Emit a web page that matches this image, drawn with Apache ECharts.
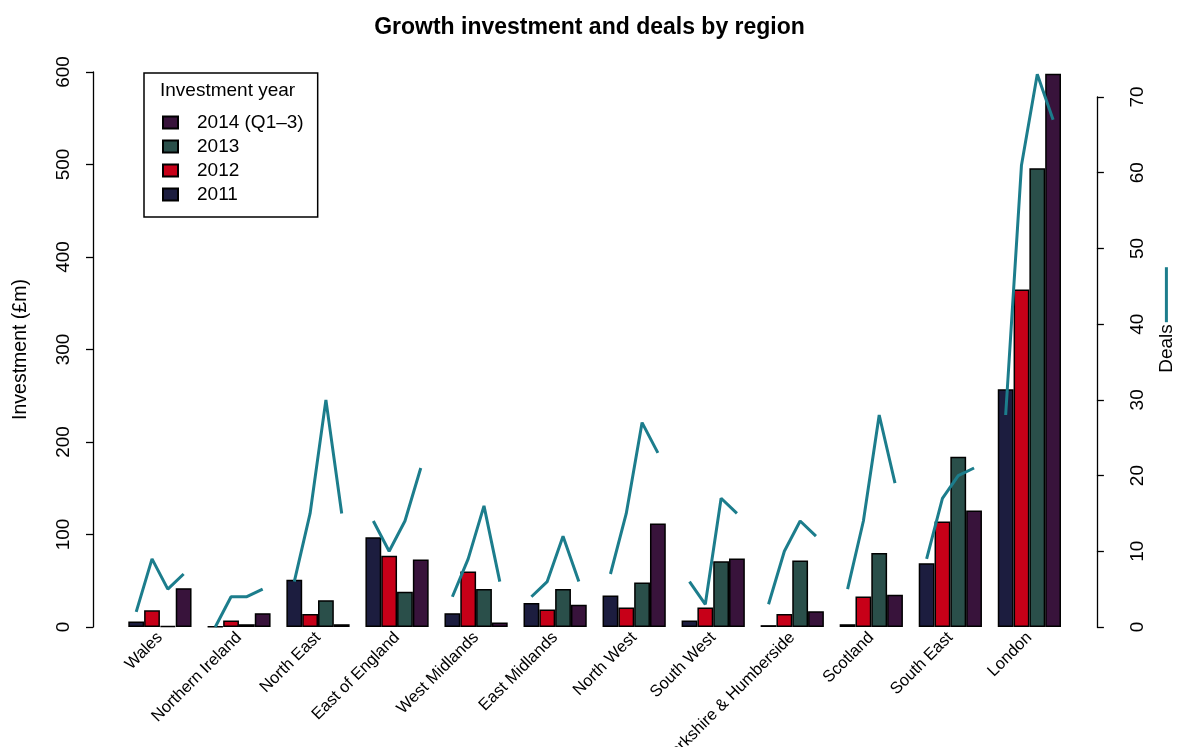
<!DOCTYPE html>
<html>
<head>
<meta charset="utf-8">
<script src="https://cdn.jsdelivr.net/npm/echarts@6/dist/echarts.min.js"></script>
<style>
html,body{margin:0;padding:0;background:#fff;}
#c{width:1179px;height:747px;}
</style>
</head>
<body>
<div id="c"></div>
<script>
const regions = ['Wales','Northern Ireland','North East','East of England','West Midlands','East Midlands','North West','South West','Yorkshire & Humberside','Scotland','South East','London'];
const years = ['2011','2012','2013','2014 (Q1–3)'];
const inv2011 = [6, 0.5, 51, 97, 15, 26, 34, 7, 2, 3, 69, 257];
const inv2012 = [18, 7, 14, 77, 60, 19, 21, 21, 14, 33, 114, 365];
const inv2013 = [1, 3, 29, 38, 41, 41, 48, 71, 72, 80, 184, 496];
const inv2014 = [42, 15, 3, 73, 5, 24, 112, 74, 17, 35, 126, 598];
// deals per region, years 2011..2014
const deals2011 = [2, 0, 6, 14, 4, 4, 7, 6, 3, 5, 9, 28];
const deals2012 = [9, 4, 15, 10, 9, 6, 15, 3, 10, 14, 17, 61];
const deals2013 = [5, 4, 30, 14, 16, 12, 27, 17, 14, 28, 20, 73];
const deals2014 = [7, 5, 15, 21, 6, 6, 23, 15, 12, 19, 21, 67];
const invTicks = [0, 100, 200, 300, 400, 500, 600];
const dealTicks = [0, 10, 20, 30, 40, 50, 60, 70];

const colors = ['#1c1d3f', '#c70018', '#2a4f4a', '#38133b'];
const lineColor = '#1c7d8c';
const FONT = 'Liberation Sans, Arial, Helvetica, sans-serif';

// slot axis: 5 slots per region, bars centred at slots 1..4 of each group
const slots = [];
for (let i = 0; i <= regions.length * 5; i++) slots.push(String(i));
const dealSets = [deals2011, deals2012, deals2013, deals2014];
const dealLine = slots.map(() => null);
regions.forEach((r, g) => {
  dealSets.forEach((arr, k) => { dealLine[g * 5 + k + 1] = arr[g]; });
});

const invSets = [inv2011, inv2012, inv2013, inv2014];
const gridL = 120.4, gridR = 110.1;

const chart = echarts.init(document.getElementById('c'), null, {renderer: 'canvas'});
chart.setOption({
  animation: false,
  backgroundColor: '#fff',
  textStyle: {fontFamily: FONT},
  title: {
    text: 'Growth investment and deals by region',
    left: 'center', top: 11,
    textStyle: {fontFamily: FONT, fontSize: 23, fontWeight: 'bold', color: '#000'}
  },
  legend: {
    orient: 'vertical',
    left: 144, top: 73,
    data: ['2014 (Q1–3)', '2013', '2012', '2011'],
    itemWidth: 15, itemHeight: 12, itemGap: 5,
    icon: 'rect',
    padding: [40, 14, 13, 18],
    borderColor: '#000', borderWidth: 1.5,
    textStyle: {fontFamily: FONT, fontSize: 19, color: '#000', padding: [0, 0, 0, 14]}
  },
  graphic: [{
    type: 'text', left: 160, top: 81,
    style: {text: 'Investment year', font: '19px ' + FONT, fill: '#000'}
  }],
  grid: [
    {left: gridL, right: gridR, top: 72, bottom: 120, containLabel: false, outerBoundsMode: 'none'},
    {left: gridL, right: gridR, top: 97, bottom: 120, containLabel: false, outerBoundsMode: 'none'}
  ],
  xAxis: [
    {
      type: 'category', gridIndex: 0, data: regions,
      axisLine: {show: false}, axisTick: {show: false},
      axisLabel: {rotate: 45, interval: 0, fontSize: 16.5, color: '#000', margin: 8, fontFamily: FONT}
    },
    {
      type: 'category', gridIndex: 1, data: slots, boundaryGap: false,
      show: false
    }
  ],
  yAxis: [
    {
      type: 'value', gridIndex: 0, min: 0, max: 600, interval: 100,
      position: 'left', offset: 27.4,
      axisLine: {show: true, lineStyle: {color: '#000', width: 1.3}},
      axisTick: {show: true, length: 7, lineStyle: {color: '#000', width: 1.3}},
      axisLabel: {rotate: 90, fontSize: 19, color: '#000', margin: 20, fontFamily: FONT,
        formatter: v => invTicks.includes(v) ? String(v) : ''},
      splitLine: {show: false},
      name: 'Investment (£m)', nameLocation: 'middle', nameGap: 62, nameRotate: 90,
      nameTextStyle: {fontSize: 19.5, color: '#000', fontFamily: FONT}
    },
    {
      type: 'value', gridIndex: 1, min: 0, max: 70, interval: 10,
      position: 'right', offset: 28,
      axisLine: {show: true, lineStyle: {color: '#000', width: 1.3}},
      axisTick: {show: true, length: 7, lineStyle: {color: '#000', width: 1.3}},
      axisLabel: {rotate: 90, fontSize: 19, color: '#000', margin: 31, fontFamily: FONT,
        formatter: v => dealTicks.includes(v) ? String(v) : ''},
      splitLine: {show: false},
      name: '{sp|}Deals{gap|}{ln|}', nameLocation: 'middle', nameGap: 60, nameRotate: 90,
      nameTextStyle: {
        fontSize: 19, color: '#000', fontFamily: FONT,
        rich: {
          sp: {width: 84, height: 2},
          gap: {width: 2, height: 2},
          ln: {width: 55, height: 3, backgroundColor: lineColor}
        }
      }
    }
  ],
  series: invSets.map((arr, i) => ({
    name: years[i], type: 'bar', xAxisIndex: 0, yAxisIndex: 0,
    data: arr, barGap: '0%', barCategoryGap: '20%',
    itemStyle: {color: colors[i], borderColor: '#000', borderWidth: 1.5}
  })).concat([{
    name: 'Deals', type: 'line', xAxisIndex: 1, yAxisIndex: 1,
    data: dealLine, connectNulls: false, showSymbol: false, symbol: 'none',
    clip: false, z: 5,
    lineStyle: {color: lineColor, width: 3}
  }])
});
</script>
</body>
</html>
